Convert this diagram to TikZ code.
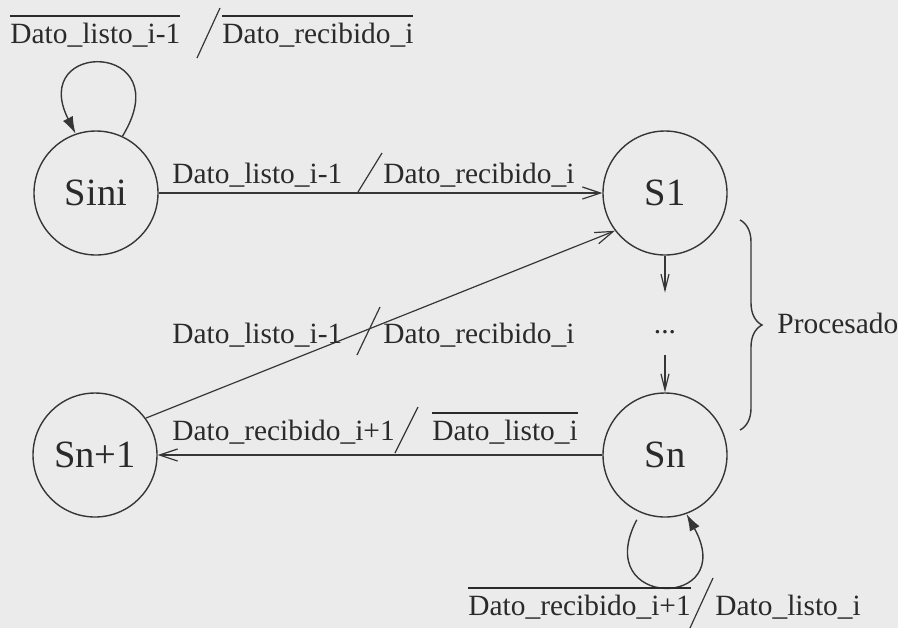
\documentclass[tikz,border=0pt]{standalone}
\usepackage{fontspec}
\setmainfont{Liberation Serif}
\usetikzlibrary{arrows.meta,decorations.pathreplacing}
\newcommand{\myovl}[1]{\setbox0=\hbox{#1}\vbox{\hrule height 0.6pt width \wd0 \kern 3pt \box0}}
\definecolor{bg}{HTML}{EBEBEB}
\definecolor{ink}{HTML}{363636}
\definecolor{txt}{HTML}{2A2A2A}
\tikzset{
  state/.style={circle, draw=ink, line width=0.7pt, minimum size=62pt, inner sep=0pt, text=txt, font=\fontsize{19.3pt}{22pt}\selectfont},
  lbl/.style={anchor=base west, inner sep=0pt, text=txt, font=\fontsize{14.7pt}{17pt}\selectfont},
  edge/.style={draw=ink, line width=0.6pt, -{Straight Barb[length=9pt,width=6pt]}},
  vedge/.style={draw=ink, line width=0.6pt, -{Straight Barb[length=8pt,width=4pt]}},
  loopedge/.style={draw=ink, line width=0.7pt, -{Latex[length=8.5pt,width=5.5pt]}},
  slash/.style={draw=ink, line width=0.6pt},
  bracestyle/.style={draw=ink, line width=0.7pt, decorate, decoration={brace, amplitude=11pt}}
}
\begin{document}
\begin{tikzpicture}[x=0.5pt, y=-0.5pt]
\fill[bg] (0,0) rectangle (898,628);
\useasboundingbox (0,0) rectangle (898,628);

% states
\node[state] (Sini) at (96,193) {Sini};
\node[state] (S1) at (665,193) {S1};
\node[state] (Sn) at (665,455) {Sn};
\node[state] (Sn1) at (95,455) {Sn+1};
\node[lbl, anchor=base, text height=20pt, text depth=11pt] (dots) at (665,333) {...};

% edges
\draw[edge] (Sini) -- (S1);
\draw[edge] (Sn1.36) -- (S1.217);
\draw[edge] (Sn) -- (Sn1);
\draw[vedge] (S1) -- (dots.north);
\draw[vedge] (dots.south) -- (Sn);

% self loops
\draw[loopedge] (Sini.65) .. controls +(58,-95) and +(-48,-95) .. (Sini.109);
\draw[loopedge, shorten <=4pt] (Sn.247) .. controls +(-51,97) and +(53,96) .. (Sn.290);

% brace
\draw[bracestyle] (740,220) -- (740,430);
\node[lbl] (proc) at (777,333) {Procesado};

% labels: Sini loop
\node[lbl] (l1a) at (10,43) {\myovl{Dato\_listo\_i-1}};
\node[lbl] (l1b) at (222,43) {\myovl{Dato\_recibido\_i}};
\draw[slash] (220,8) -- (197,58);

% labels: Sini -> S1
\node[lbl] (l2a) at (172,183) {Dato\_listo\_i-1};
\node[lbl] (l2b) at (383,183) {Dato\_recibido\_i};
\draw[slash] (382,153) -- (358,192);

% labels: Sn+1 -> S1
\node[lbl] (l3a) at (172,343) {Dato\_listo\_i-1};
\node[lbl] (l3b) at (383,343) {Dato\_recibido\_i};
\draw[slash] (380,307) -- (357,355);

% labels: Sn -> Sn+1
\node[lbl] (l4a) at (172,440) {Dato\_recibido\_i+1};
\node[lbl] (l4b) at (432,440) {\myovl{Dato\_listo\_i}};
\draw[slash] (418,407) -- (395,453);

% labels: Sn loop
\node[lbl] (l5a) at (468,615) {\myovl{Dato\_recibido\_i+1}};
\node[lbl] (l5b) at (715,615) {Dato\_listo\_i};
\draw[slash] (713,578) -- (690,628);
\end{tikzpicture}
\end{document}
